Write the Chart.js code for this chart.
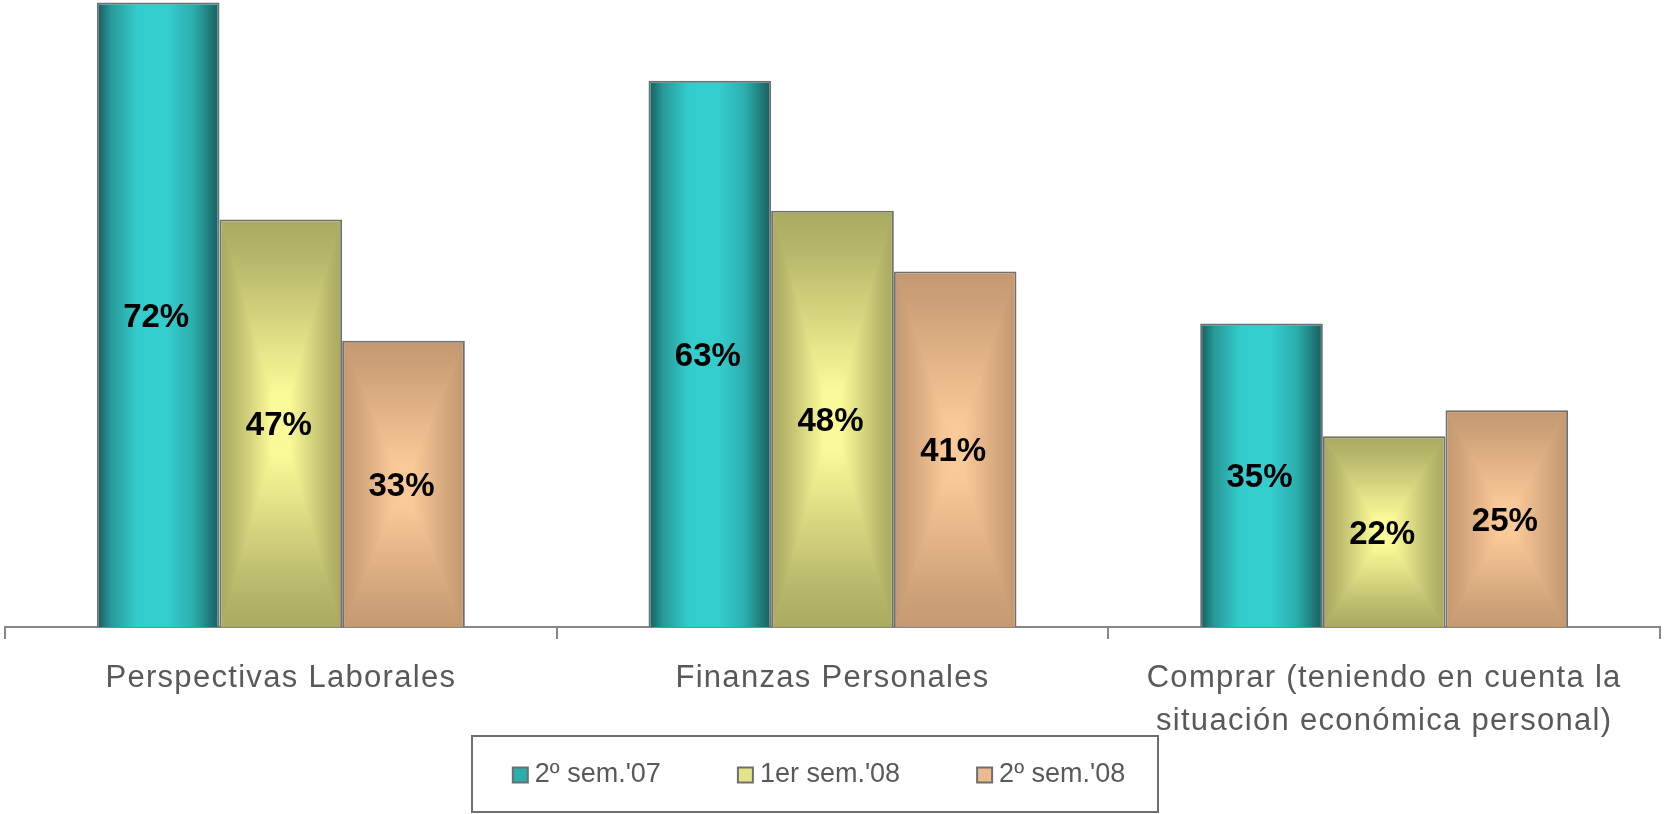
<!DOCTYPE html>
<html>
<head>
<meta charset="utf-8">
<script src="https://cdn.jsdelivr.net/npm/chart.js@4.4.1/dist/chart.umd.min.js"></script>
<style>
  html, body { margin: 0; padding: 0; background: #fff; }
  #wrap { width: 1665px; height: 814px; }
</style>
</head>
<body>
<div id="wrap"><canvas id="chart" width="1665" height="814"></canvas></div>
<script>
const CATEGORIES = [
  'Perspectivas Laborales',
  'Finanzas Personales',
  ['Comprar (teniendo en cuenta la', 'situación económica personal)']
];
const SERIES_LABELS = ["2º sem.'07", "1er sem.'08", "2º sem.'08"];
const SEM2_07 = [72, 63, 35];
const SEM1_08 = [47, 48, 22];
const SEM2_08 = [33, 41, 25];

const FONT = "'Liberation Sans', Arial, sans-serif";
const GREY_TEXT = '#595959';
const BORDER = '#6f6f6f';

// edge / centre colours for the shaded bars
const SHADES = [
  { type: 'cylinder', edge: '#1a6262', mid: '#34cdcd', flat: '#2aaeae' },
  { type: 'frame', edge: '#a9a961', mid: '#fafa98', flat: '#e3e388' },
  { type: 'frame', edge: '#c49971', mid: '#fac999', flat: '#ecbb8c' }
];

function mix(a, b, t) {
  const pa = [1, 3, 5].map(i => parseInt(a.substr(i, 2), 16));
  const pb = [1, 3, 5].map(i => parseInt(b.substr(i, 2), 16));
  return 'rgb(' + pa.map((v, i) => Math.round(v + (pb[i] - v) * t)).join(',') + ')';
}

// paints the gradient inside each bar, keeping the grey border
const barShading = {
  id: 'barShading',
  afterDatasetDraw(chart, args) {
    const ctx = chart.ctx;
    const shade = SHADES[args.index];
    args.meta.data.forEach(el => {
      const bw = 2;
      const L = el.x - el.width / 2 + bw, R = el.x + el.width / 2 - bw;
      const T = el.y + bw, B = el.base;
      if (B - T <= 0) return;
      ctx.save();
      ctx.beginPath();
      ctx.rect(L, T, R - L, B - T);
      ctx.clip();
      if (shade.type === 'cylinder') {
        const g = ctx.createLinearGradient(L, 0, R, 0);
        g.addColorStop(0, shade.edge);
        g.addColorStop(0.1, mix(shade.edge, shade.mid, 0.5));
        g.addColorStop(0.33, shade.mid);
        g.addColorStop(0.58, shade.mid);
        g.addColorStop(0.8, mix(shade.edge, shade.mid, 0.7));
        g.addColorStop(1, shade.edge);
        ctx.fillStyle = g;
        ctx.fillRect(L, T, R - L, B - T);
      } else {
        const cx = (L + R) / 2, cy = (T + B) / 2;
        const tris = [
          [[L, T], [R, T], [cx, T], [cx, cy]],
          [[R, B], [L, B], [cx, B], [cx, cy]],
          [[L, B], [L, T], [L, cy], [cx, cy]],
          [[R, T], [R, B], [R, cy], [cx, cy]]
        ];
        tris.forEach(([p1, p2, g0, g1]) => {
          const g = ctx.createLinearGradient(g0[0], g0[1], g1[0], g1[1]);
          g.addColorStop(0, shade.edge);
          g.addColorStop(0.25, mix(shade.edge, shade.mid, 0.25));
          g.addColorStop(0.85, shade.mid);
          g.addColorStop(1, shade.mid);
          ctx.fillStyle = g;
          ctx.beginPath();
          ctx.moveTo(p1[0], p1[1]);
          ctx.lineTo(p2[0], p2[1]);
          ctx.lineTo(cx, cy);
          ctx.closePath();
          ctx.fill();
          ctx.strokeStyle = g;
          ctx.lineWidth = 0.6;
          ctx.stroke();
        });
      }
      ctx.restore();
    });
  }
};

// value labels in the middle of each bar
const valueLabels = {
  id: 'valueLabels',
  afterDatasetsDraw(chart) {
    const ctx = chart.ctx;
    ctx.save();
    ctx.font = 'bold 33px ' + FONT;
    ctx.fillStyle = '#000';
    ctx.textAlign = 'center';
    ctx.textBaseline = 'middle';
    chart.data.datasets.forEach((ds, i) => {
      chart.getDatasetMeta(i).data.forEach((el, j) => {
        ctx.fillText(ds.data[j] + '%', el.x - 2, (el.y + el.base) / 2 + 3);
      });
    });
    ctx.restore();
  }
};

// the category labels are drawn a bit letter-spaced
const tickSpacing = {
  id: 'tickSpacing',
  beforeDraw(chart) { chart.ctx.letterSpacing = '1.3px'; },
  beforeDatasetsDraw(chart) { chart.ctx.letterSpacing = '0px'; }
};

// boxed legend under the axis
const boxLegend = {
  id: 'boxLegend',
  afterDraw(chart) {
    const ctx = chart.ctx;
    const box = { x: 472, y: 736, w: 686, h: 76 };
    const mark = 15, gap = 7, between = 77;
    ctx.save();
    ctx.strokeStyle = BORDER;
    ctx.lineWidth = 2;
    ctx.strokeRect(box.x, box.y, box.w, box.h);
    ctx.font = '27px ' + FONT;
    ctx.textBaseline = 'middle';
    const widths = chart.data.datasets.map(ds => ctx.measureText(ds.label).width);
    const total = widths.reduce((s, w) => s + mark + gap + w, 0) + between * (widths.length - 1);
    let x = box.x + (box.w - total) / 2 + 4;
    const cy = box.y + box.h / 2 + 1;
    chart.data.datasets.forEach((ds, i) => {
      ctx.fillStyle = SHADES[i].flat;
      ctx.fillRect(x, cy - mark / 2, mark, mark);
      ctx.lineWidth = 2;
      ctx.strokeStyle = BORDER;
      ctx.strokeRect(x, cy - mark / 2, mark, mark);
      ctx.fillStyle = GREY_TEXT;
      ctx.fillText(ds.label, x + mark + gap, cy);
      x += mark + gap + widths[i] + between;
    });
    ctx.restore();
  }
};

const seriesValues = [SEM2_07, SEM1_08, SEM2_08];

new Chart(document.getElementById('chart'), {
  type: 'bar',
  data: {
    labels: CATEGORIES,
    datasets: seriesValues.map((vals, i) => ({
      label: SERIES_LABELS[i],
      data: vals,
      backgroundColor: SHADES[i].flat,
      borderColor: BORDER,
      borderWidth: 2,
      categoryPercentage: 0.667,
      barPercentage: 1
    }))
  },
  options: {
    responsive: false,
    animation: false,
    devicePixelRatio: 1,
    layout: { padding: { left: 5, right: 5, top: 0, bottom: 53 } },
    plugins: {
      legend: { display: false },
      tooltip: { enabled: false }
    },
    scales: {
      x: {
        grid: {
          offset: true,
          drawOnChartArea: false,
          drawTicks: true,
          tickLength: 12,
          color: '#868686',
          lineWidth: 2
        },
        border: { display: true, color: '#868686', width: 2 },
        ticks: {
          color: GREY_TEXT,
          font: { family: FONT, size: 31, lineHeight: 43 / 31 },
          padding: 18,
          maxRotation: 0,
          autoSkip: false
        }
      },
      y: {
        display: false,
        min: 0,
        max: 72.3
      }
    }
  },
  plugins: [tickSpacing, barShading, valueLabels, boxLegend]
});
</script>
</body>
</html>
